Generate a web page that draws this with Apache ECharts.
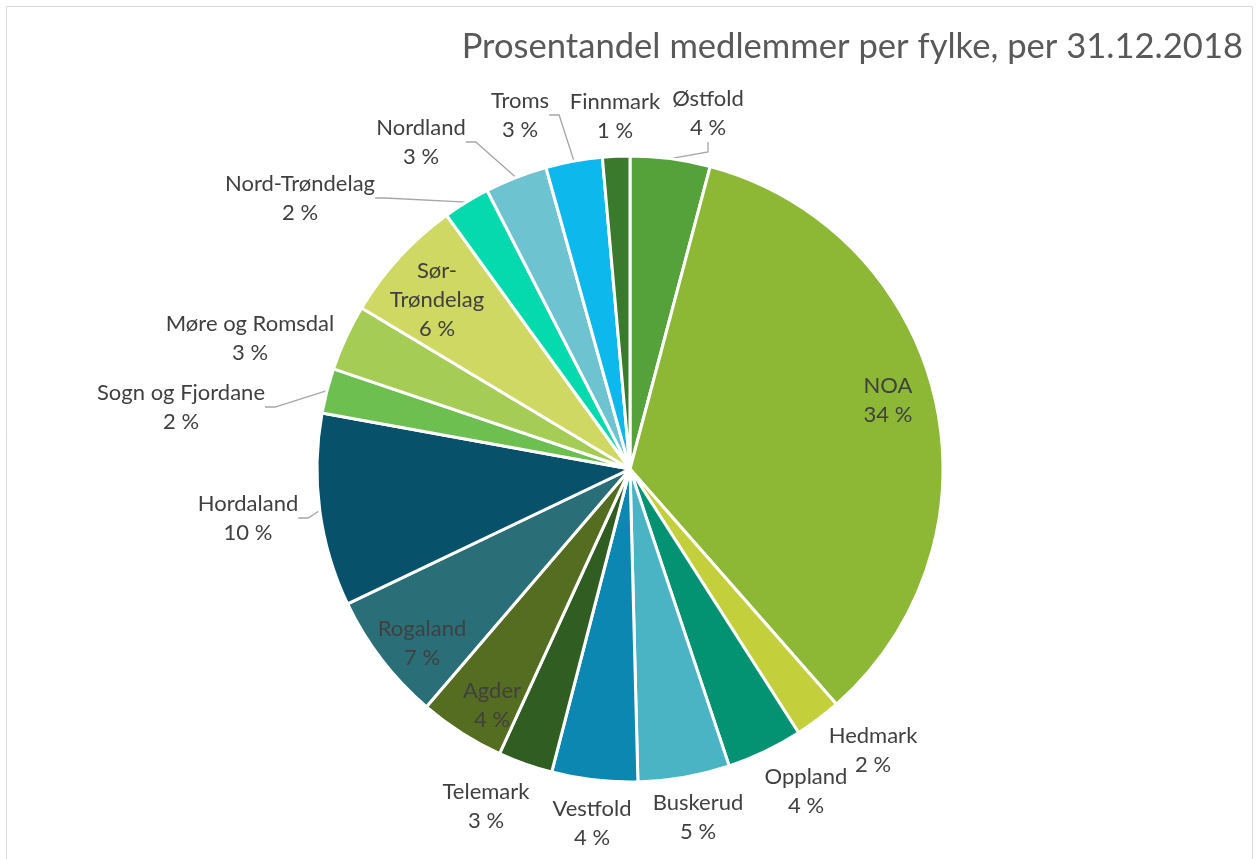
<!DOCTYPE html>
<html>
<head>
<meta charset="utf-8">
<script src="https://cdn.jsdelivr.net/npm/echarts@6/dist/echarts.min.js"></script>
<style>
  html, body { margin: 0; padding: 0; background: #fff; }
  #chart { width: 1257px; height: 859px; }
</style>
</head>
<body>
<div id="chart"></div>
<script>
  // fylker, med klokka fra toppen
  const fylker = ['Østfold', 'NOA', 'Hedmark', 'Oppland', 'Buskerud', 'Vestfold', 'Telemark', 'Agder',
    'Rogaland', 'Hordaland', 'Sogn og Fjordane', 'Møre og Romsdal', 'Sør-Trøndelag', 'Nord-Trøndelag',
    'Nordland', 'Troms', 'Finnmark'];
  const andel = [4.1, 34.2, 2.4, 3.9, 4.7, 4.4, 2.8, 4.4, 6.6, 9.9, 2.3, 3.4, 6.4, 2.4, 3.2, 2.9, 1.4];
  const farger = ['#55a13a', '#8cb835', '#c3d03c', '#039373', '#4bb4c4', '#0b87b1', '#305e22', '#556d20',
    '#2a6f78', '#07516a', '#6dbf4f', '#a5cc55', '#cfd863', '#05daae', '#6ec3d0', '#0db8ec', '#3a7a2c'];
  // etiketter som står inne i sektoren
  const innenfor = ['NOA', 'Agder', 'Rogaland', 'Sør-Trøndelag'];
  // etiketter med strek til sektoren
  const medStrek = ['Østfold', 'Troms', 'Nordland', 'Nord-Trøndelag', 'Sogn og Fjordane', 'Hordaland'];

  // plassering av etikettene (midtpunkt), slik Excel la dem
  const etikettPos = {
    'Østfold': [708, 113], 'Finnmark': [615, 116], 'Troms': [520, 115], 'Nordland': [421, 142],
    'Nord-Trøndelag': [300, 198], 'Møre og Romsdal': [250, 338], 'Sogn og Fjordane': [181, 407],
    'Hordaland': [248, 518], 'Telemark': [486, 806], 'Vestfold': [592, 823], 'Buskerud': [698, 817],
    'Oppland': [806, 791], 'Hedmark': [873, 750], 'NOA': [888, 400], 'Rogaland': [422, 643],
    'Agder': [492, 705], 'Sør-Trøndelag': [437, 300]
  };

  const tekst = '#404040';
  const font = 'Lato';

  const chart = echarts.init(document.getElementById('chart'));

  const data = fylker.map(function (n, i) {
    return {
      name: n,
      value: andel[i],
      itemStyle: { color: farger[i] },
      label: { position: innenfor.indexOf(n) >= 0 ? 'inside' : 'outside' },
      labelLine: { show: medStrek.indexOf(n) >= 0 }
    };
  });

  const option = {
    animation: false,
    title: {
      text: 'Prosentandel medlemmer per fylke, per 31.12.2018',
      right: 9,
      top: 24,
      textStyle: { fontFamily: font, fontSize: 34.6, fontWeight: 'normal', color: '#595959' }
    },
    graphic: [{
      type: 'rect',
      shape: { x: 6.5, y: 6.5, width: 1246, height: 870 },
      style: { fill: 'none', stroke: '#d9d9d9', lineWidth: 1 },
      silent: true
    }],
    series: [
      {
        type: 'pie',
        center: [630, 469],
        radius: 313,
        startAngle: 90,
        clockwise: true,
        avoidLabelOverlap: false,
        itemStyle: { borderColor: '#fff', borderWidth: 3 },
        label: {
          formatter: function (p) {
            return p.name.replace('Sør-', 'Sør-\n') + '\n' + Math.round(p.percent) + ' %';
          },
          fontFamily: font,
          fontSize: 22,
          lineHeight: 29,
          color: tekst,
          align: 'center'
        },
        labelLine: { length: 14, length2: 10, lineStyle: { color: '#a6a6a6', width: 1.3 } },
        labelLayout: function (p) {
          const pos = etikettPos[fylker[p.dataIndex]];
          return { x: pos[0], y: pos[1], align: 'center', verticalAlign: 'middle' };
        },
        emphasis: { disabled: true },
        data: data
      }
    ]
  };

  chart.setOption(option);
</script>
</body>
</html>
